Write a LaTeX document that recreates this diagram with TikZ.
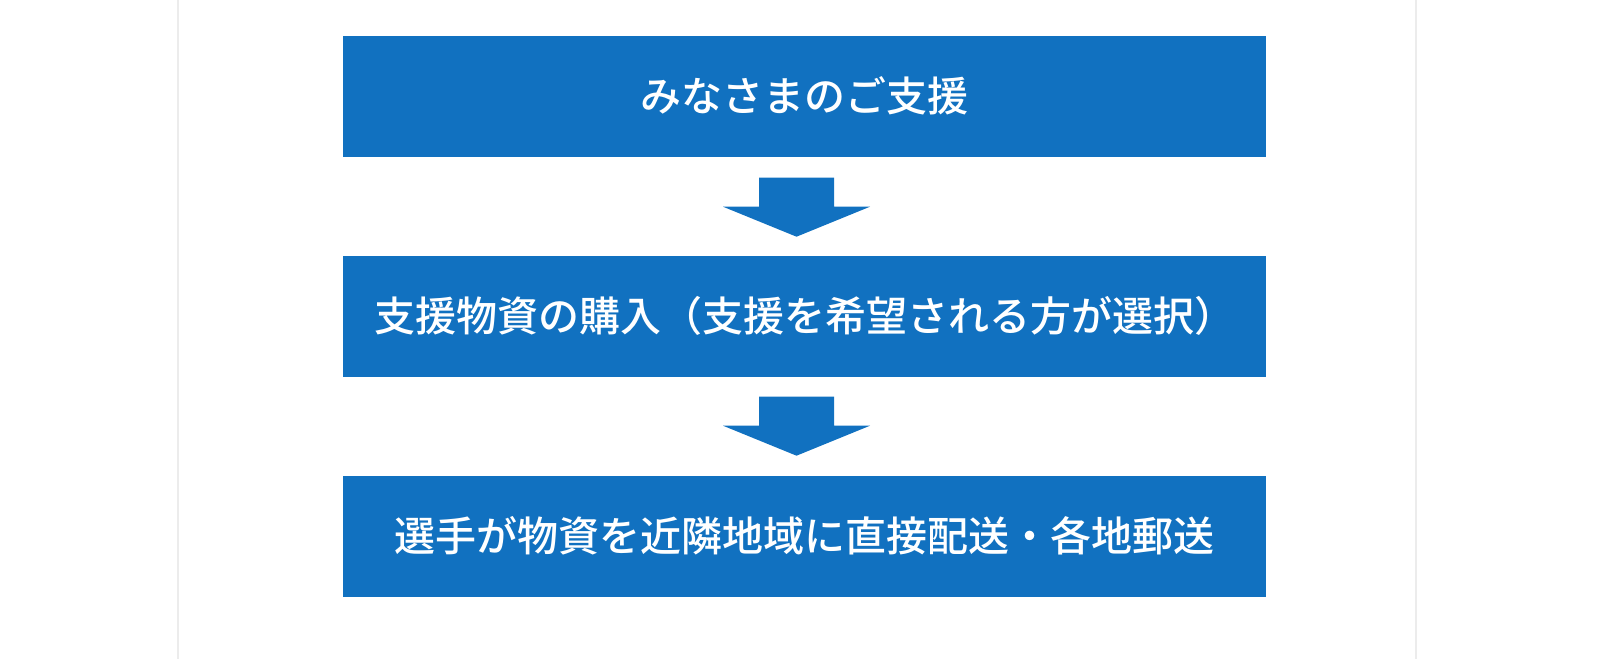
\documentclass[tikz,border=0pt]{standalone}
\usepackage{fontspec}
\setmainfont{Noto Sans CJK JP}[BoldFont={Noto Sans CJK JP Medium}]
\definecolor{flowblue}{RGB}{17,113,192}
\definecolor{pageline}{RGB}{236,236,236}
\tikzstyle{stepbox} = [
    rectangle,
    minimum width=923pt,
    minimum height=121pt,
    inner sep=0pt,
    fill=flowblue,
    text=white,
    font=\bfseries\fontsize{41}{48}\selectfont
]
\tikzstyle{blockarrow} = [fill=flowblue]

\begin{document}
\begin{tikzpicture}[x=1pt,y=-1pt,node distance=220pt]
\useasboundingbox (0,0) rectangle (1606,659);

\draw [pageline, line width=1.5pt] (178,0) -- (178,659);
\draw [pageline, line width=1.5pt] (1416,0) -- (1416,659);

\node (support) [stepbox] at (804.5,96) {みなさまのご支援};

\node (purchase) [stepbox, below of=support]
{支援物資の購入（支援を希望される方が選択）};

\node (delivery) [stepbox, below of=purchase]
{選手が物資を近隣地域に直接配送・各地郵送};

% block arrows between the boxes
\fill [blockarrow] ([xshift=-45.5pt,yshift=-21pt]support.south)
    -- ++(75,0) -- ++(0,29) -- ++(36,0) -- ++(-73.5,30) -- ++(-73.5,-30) -- ++(36,0) -- cycle;
\fill [blockarrow] ([xshift=-45.5pt,yshift=-20pt]purchase.south)
    -- ++(75,0) -- ++(0,29) -- ++(36,0) -- ++(-73.5,30) -- ++(-73.5,-30) -- ++(36,0) -- cycle;

\end{tikzpicture}
\end{document}
